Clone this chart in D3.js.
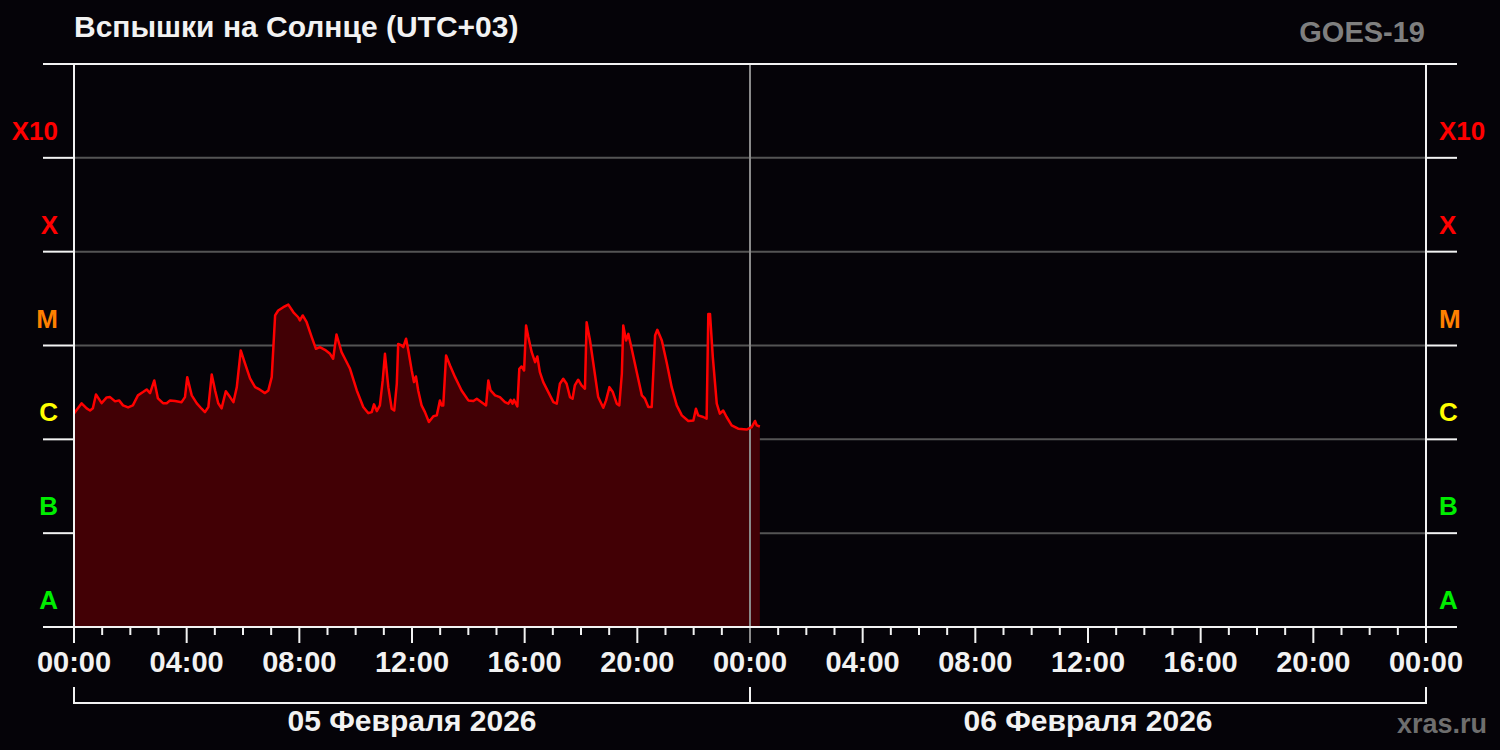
<!DOCTYPE html>
<html><head><meta charset="utf-8">
<script src="https://cdn.jsdelivr.net/npm/d3@7"></script>
<style>
html,body{margin:0;padding:0;background:#050308;}
svg{display:block;}
text{font-family:"Liberation Sans",Arial,sans-serif;font-weight:bold;}
</style></head><body>
<script>
// ---- data ----
const titleText = "Вспышки на Солнце (UTC+03)";
const satelliteName = "GOES-19";
const siteName = "xras.ru";
const dayLabels = ["05 Февраля 2026", "06 Февраля 2026"];
const hourTickLabels = ["00:00","04:00","08:00","12:00","16:00","20:00","00:00","04:00","08:00","12:00","16:00","20:00","00:00"];
const classNames = ["A","B","C","M","X","X10"];
const classBase = [1e-8,1e-7,1e-6,1e-5,1e-4,1e-3];
const classColors = ["#00ee00","#00ee00","#ffff00","#ff8000","#ff0000","#ff0000"];
// hours since 05 Feb 00:00 (UTC+03)
const hours = [0,0.27,0.45,0.57,0.67,0.78,0.98,1.16,1.28,1.46,1.60,1.74,1.92,2.09,2.27,2.45,2.58,2.70,2.85,2.98,3.16,3.29,3.41,3.59,3.82,3.94,4.02,4.18,4.36,4.53,4.65,4.77,4.89,5.01,5.12,5.24,5.39,5.54,5.66,5.78,5.92,6.07,6.25,6.43,6.60,6.78,6.90,7.02,7.14,7.25,7.43,7.61,7.79,7.96,8.02,8.12,8.26,8.44,8.59,8.73,8.91,9.09,9.20,9.32,9.50,9.62,9.80,10.04,10.27,10.45,10.57,10.65,10.75,10.86,10.96,11.04,11.16,11.28,11.37,11.46,11.51,11.63,11.69,11.79,11.87,11.99,12.07,12.14,12.22,12.34,12.46,12.60,12.76,12.88,12.93,12.99,13.05,13.11,13.21,13.35,13.53,13.76,14.00,14.18,14.30,14.47,14.63,14.71,14.79,14.95,15.12,15.30,15.42,15.50,15.57,15.62,15.74,15.81,15.89,15.98,16.05,16.13,16.25,16.37,16.45,16.54,16.66,16.84,17.02,17.14,17.25,17.37,17.49,17.61,17.70,17.78,17.90,18.02,18.14,18.20,18.32,18.44,18.61,18.79,18.89,19.01,19.13,19.27,19.36,19.45,19.50,19.60,19.68,19.80,19.98,20.16,20.27,20.39,20.51,20.63,20.71,20.87,21.04,21.22,21.40,21.58,21.81,21.99,22.08,22.16,22.34,22.46,22.52,22.58,22.68,22.82,22.93,23.05,23.17,23.35,23.58,23.88,24.06,24.18,24.24,24.35];
// X-ray flux, in units of 1e-6 W/m^2 (C-class units)
const fluxC = [1.89,2.42,2.14,2.03,2.14,3.01,2.43,2.80,2.82,2.54,2.60,2.30,2.19,2.30,2.94,3.19,3.40,3.11,4.24,2.73,2.43,2.42,2.60,2.56,2.49,2.82,4.60,2.94,2.42,2.12,1.95,2.21,4.91,3.32,2.42,2.14,3.26,2.82,2.49,3.60,8.85,6.44,4.46,3.60,3.38,3.11,3.32,4.60,20.9,23.6,25.6,27.3,22.6,20.0,18.5,20.9,17.7,12.3,9.22,9.59,9.00,8.16,7.22,13.1,8.49,7.22,5.65,3.32,2.21,1.90,1.95,2.36,2.00,2.30,4.24,8.16,3.60,2.12,2.03,3.91,10.4,10.0,9.59,11.8,8.85,5.42,4.07,4.68,3.32,2.30,1.95,1.53,1.76,1.80,2.12,2.60,2.30,2.30,7.83,6.13,4.60,3.32,2.60,2.56,2.71,2.49,2.30,4.24,3.32,2.94,2.82,2.49,2.40,2.64,2.40,2.64,2.24,5.65,5.98,5.42,16.3,12.3,8.49,6.64,7.64,5.20,4.07,3.19,2.49,2.40,3.91,4.42,3.91,2.82,2.71,3.75,4.32,3.75,3.46,17.7,11.3,6.39,2.82,2.17,2.60,3.60,3.19,2.40,2.30,5.00,16.3,11.3,13.3,9.22,5.20,2.94,2.71,2.21,2.21,12.8,14.7,11.3,6.64,3.60,2.30,1.80,1.57,1.59,2.12,1.80,1.73,1.66,21.7,21.7,7.51,2.40,1.88,2.03,1.73,1.41,1.30,1.27,1.35,1.57,1.41,1.37];

// ---- layout ----
const W = 1500, H = 750;
const L = 74, R = 1426, T = 64, B = 627;
const svg = d3.select("body").append("svg").attr("width", W).attr("height", H);
svg.append("rect").attr("width", W).attr("height", H).attr("fill", "#050308");

const x = d3.scaleLinear().domain([0, 48]).range([L, R]);
const y = d3.scaleLog().domain([1e-8, 1e-2]).range([B, T]);
const data = hours.map((h, i) => ({h, v: fluxC[i] * 1e-6}));

// grid lines
const gridLevels = [1e-7,1e-6,1e-5,1e-4,1e-3];
svg.append("g").selectAll("line").data(gridLevels).join("line")
  .attr("x1", L).attr("x2", R).attr("y1", d => y(d)).attr("y2", d => y(d))
  .attr("stroke", "#545454").attr("stroke-width", 2);

// area + line
svg.append("path").datum(data)
  .attr("d", d3.area().x(d => x(d.h)).y0(y(1e-8)).y1(d => y(d.v)))
  .attr("fill", "#420005");
// midnight divider
svg.append("line").attr("x1", x(24)).attr("x2", x(24)).attr("y1", T).attr("y2", B + 16)
  .attr("stroke", "#8a8a8a").attr("stroke-width", 2);
svg.append("path").datum(data)
  .attr("d", d3.line().x(d => x(d.h)).y(d => y(d.v)))
  .attr("fill", "none").attr("stroke", "#ff0000").attr("stroke-width", 2.5).attr("stroke-linejoin", "round");

const white = "#f2f2f2";
// top/bottom frame lines and level ticks
const allLevels = [1e-8,1e-7,1e-6,1e-5,1e-4,1e-3,1e-2];
const g = svg.append("g");
[1e-8, 1e-2].forEach(lv => {
  g.append("line").attr("x1", 43).attr("x2", 1457).attr("y1", y(lv)).attr("y2", y(lv))
   .attr("stroke", white).attr("stroke-width", 2);
});
g.selectAll(".lt").data(allLevels).join("line").attr("class","lt")
  .attr("x1", 43).attr("x2", L).attr("y1", d => y(d)).attr("y2", d => y(d))
  .attr("stroke", white).attr("stroke-width", 2);
g.selectAll(".rt").data(allLevels).join("line").attr("class","rt")
  .attr("x1", R).attr("x2", 1457).attr("y1", d => y(d)).attr("y2", d => y(d))
  .attr("stroke", white).attr("stroke-width", 2);
// vertical axes
[0, 48].forEach(h => {
  g.append("line").attr("x1", x(h)).attr("x2", x(h)).attr("y1", T).attr("y2", B + 16)
   .attr("stroke", white).attr("stroke-width", 2);
});
// hour ticks
const hourTicks = d3.range(1, 48);
g.selectAll(".ht").data(hourTicks.filter(h => h !== 24)).join("line").attr("class","ht")
  .attr("x1", d => x(d)).attr("x2", d => x(d)).attr("y1", B)
  .attr("y2", d => d % 4 === 0 ? B + 16 : B + 8)
  .attr("stroke", white).attr("stroke-width", 2);
// hour labels
svg.append("g").selectAll("text").data(hourTickLabels).join("text")
  .attr("x", (d, i) => x(i * 4)).attr("y", 672)
  .attr("text-anchor", "middle").attr("fill", white).attr("font-size", 29).text(d => d);

// class labels
svg.append("g").selectAll("text").data(classNames).join("text")
  .attr("x", 58).attr("y", (d, i) => y(classBase[i]) - 18)
  .attr("text-anchor", "end").attr("fill", (d, i) => classColors[i]).attr("font-size", 26).text(d => d);
svg.append("g").selectAll("text").data(classNames).join("text")
  .attr("x", 1439).attr("y", (d, i) => y(classBase[i]) - 18)
  .attr("text-anchor", "start").attr("fill", (d, i) => classColors[i]).attr("font-size", 26).text(d => d);

// day bracket
svg.append("path")
  .attr("d", `M${x(0)},687V703H${x(48)}V687M${x(24)},687V703`)
  .attr("fill", "none").attr("stroke", white).attr("stroke-width", 2);
svg.append("g").selectAll("text").data(dayLabels).join("text")
  .attr("x", (d, i) => x(i * 24 + 12)).attr("y", 731)
  .attr("text-anchor", "middle").attr("fill", white).attr("font-size", 30).text(d => d);

// titles
svg.append("text").attr("x", L).attr("y", 37).attr("fill", white).attr("font-size", 30).text(titleText);
svg.append("text").attr("x", 1425).attr("y", 42).attr("text-anchor", "end")
  .attr("fill", "#7f7f7f").attr("font-size", 29).text(satelliteName);
svg.append("text").attr("x", 1487).attr("y", 733).attr("text-anchor", "end")
  .attr("fill", "#6e6e6e").attr("font-size", 27).text(siteName);
</script>
</body></html>
